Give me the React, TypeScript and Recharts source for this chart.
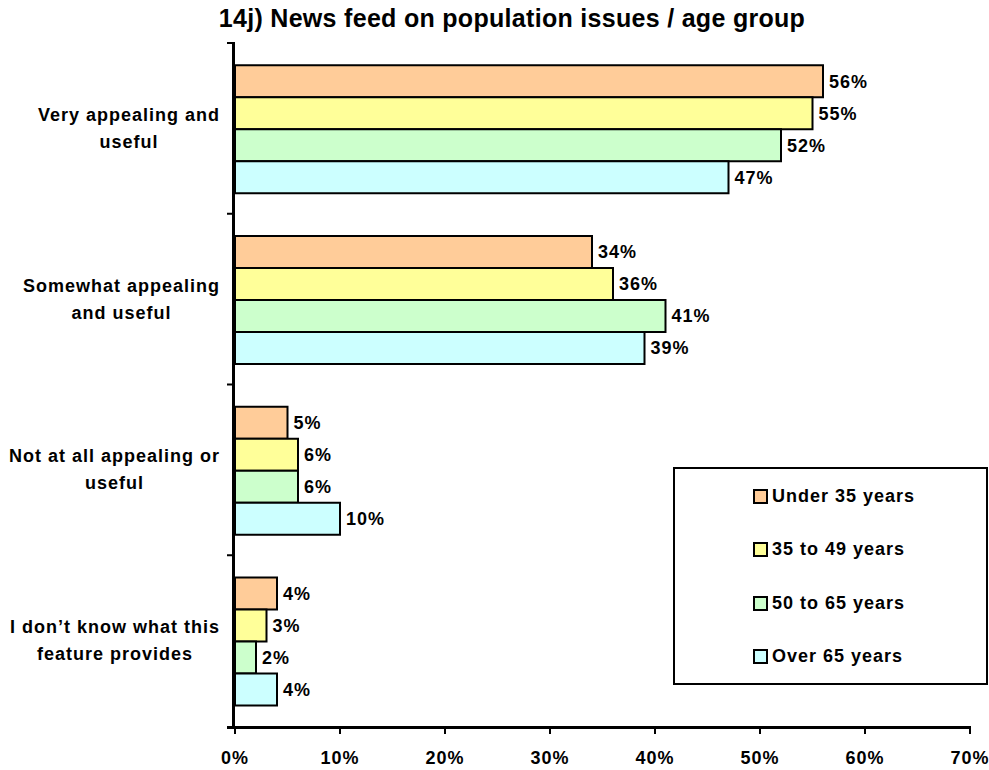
import React from 'react';
import { BarChart, Bar, XAxis, YAxis, LabelList } from 'recharts';

const categories = [
  'Very appealing and\nuseful',
  'Somewhat appealing\nand useful',
  'Not at all appealing or\nuseful',
  'I don\u2019t know what this\nfeature provides',
];

const under35 = [56, 34, 5, 4];
const age35to49 = [55, 36, 6, 3];
const age50to65 = [52, 41, 6, 2];
const over65 = [47, 39, 10, 4];

const xTicks = [0, 10, 20, 30, 40, 50, 60, 70];

const series = [
  { key: 'under35', name: 'Under 35 years', color: '#FFCC99', values: under35 },
  { key: 'age35to49', name: '35 to 49 years', color: '#FFFF99', values: age35to49 },
  { key: 'age50to65', name: '50 to 65 years', color: '#CCFFCC', values: age50to65 },
  { key: 'over65', name: 'Over 65 years', color: '#CCFFFF', values: over65 },
];

const FONT = '"Liberation Sans", Arial, sans-serif';
const TEXT_STYLE = { fontFamily: FONT, fontWeight: 'bold' as const, fontSize: 18, letterSpacing: 1 };

const data = categories.map((category, i) => {
  const row: Record<string, string | number> = { category };
  series.forEach((s) => {
    row[s.key] = s.values[i];
  });
  return row;
});

let measureCtx: CanvasRenderingContext2D | null = null;
function textWidth(str: string) {
  if (!measureCtx) {
    measureCtx = document.createElement('canvas').getContext('2d');
  }
  if (!measureCtx) return str.length * 10;
  measureCtx.font = `bold 18px ${FONT}`;
  return measureCtx.measureText(str).width + str.length * 1;
}

// axis segment for the band, tick marks on the band edges, label block right aligned
function CategoryTick(props: any) {
  const { x, y, payload, index, visibleTicksCount } = props;
  const lines = String(payload?.value ?? '').split('\n');
  const lineHeight = 27;
  const half = payload?.offset || 85.4;
  const isLast = index === (visibleTicksCount ?? categories.length) - 1;
  const blockWidth = Math.max(...lines.map(textWidth));
  const cx = 220 - blockWidth / 2;
  return (
    <g>
      <rect x={x - 3} y={y - half - 1} width={3} height={2 * half + 4} fill="#000" />
      <rect x={x - 8} y={y - half - 1} width={8} height={2} fill="#000" />
      {isLast && <rect x={x - 8} y={y + half} width={8} height={3} fill="#000" />}
      <text x={cx} y={y} textAnchor="middle" fill="#000" style={TEXT_STYLE}>
        {lines.map((line, i) => (
          <tspan
            key={i}
            x={cx}
            dy={i === 0 ? -((lines.length - 1) * lineHeight) / 2 + 6 : lineHeight}
          >
            {line}
          </tspan>
        ))}
      </text>
    </g>
  );
}

// x axis ticks remember where they sit so the baseline can be drawn above the bars layer
const axisFrame = { xs: [] as number[], y: NaN };

function PercentTick(props: any) {
  const { x, y, payload, index } = props;
  axisFrame.xs[index] = x;
  axisFrame.y = y;
  const prevX = index > 0 ? axisFrame.xs[index - 1] : undefined;
  return (
    <g>
      {prevX !== undefined && <rect x={prevX - 1} y={y} width={x - prevX + 2} height={3} fill="#000" />}
      <rect x={x - 1} y={y} width={2} height={8} fill="#000" />
      <text x={x} y={y + 25} dy="0.71em" textAnchor="middle" fill="#000" style={TEXT_STYLE}>
        {`${payload.value}%`}
      </text>
    </g>
  );
}

function AxisBaseline() {
  const xs = axisFrame.xs.filter((v) => Number.isFinite(v));
  if (!Number.isFinite(axisFrame.y) || xs.length < 2) return null;
  const x0 = Math.min(...xs);
  const x1 = Math.max(...xs);
  return <rect x={x0 - 1} y={axisFrame.y} width={x1 - x0 + 2} height={3} fill="#000" />;
}

function ChartLegend() {
  return (
    <div
      style={{
        position: 'absolute',
        left: 673,
        top: 467,
        width: 315,
        height: 218,
        boxSizing: 'border-box',
        border: '2px solid #000',
        background: '#fff',
        ...TEXT_STYLE,
        letterSpacing: '1px',
      }}
    >
      {series.map((s, i) => (
        <div
          key={s.key}
          style={{
            position: 'absolute',
            left: 78,
            top: 16 + i * 53.5,
            display: 'flex',
            alignItems: 'center',
            height: 22,
          }}
        >
          <span
            style={{
              display: 'inline-block',
              width: 11,
              height: 11,
              background: s.color,
              border: '2px solid #000',
              marginRight: 4,
            }}
          />
          <span>{s.name}</span>
        </div>
      ))}
    </div>
  );
}

export default function App() {
  return (
    <div style={{ position: 'absolute', left: 0, top: 0, width: 989, height: 770, background: '#fff' }}>
      <div
        style={{
          position: 'absolute',
          left: 0,
          top: 4,
          width: 1024,
          textAlign: 'center',
          fontFamily: FONT,
          fontWeight: 'bold',
          fontSize: 25,
          letterSpacing: 0.3,
        }}
      >
        14j) News feed on population issues / age group
      </div>
      <BarChart
        width={989}
        height={770}
        data={data}
        layout="vertical"
        margin={{ top: 43, right: 19, bottom: 0, left: 0 }}
        barCategoryGap="13%"
        barGap={0}
      >
        <YAxis
          type="category"
          dataKey="category"
          width={235}
          axisLine={false}
          tickLine={false}
          tickSize={0}
          tickMargin={0}
          tick={<CategoryTick />}
          interval={0}
        />
        <XAxis
          type="number"
          domain={[0, 70]}
          ticks={xTicks}
          height={44}
          axisLine={false}
          tickLine={false}
          tickSize={0}
          tickMargin={0}
          tick={<PercentTick />}
          interval={0}
        />
        {series.map((s, si) => (
          <Bar
            key={s.key}
            dataKey={s.key}
            name={s.name}
            fill={s.color}
            stroke="#000"
            strokeWidth={2}
            isAnimationActive={false}
          >
            <LabelList
              dataKey={s.key}
              position="right"
              offset={6}
              formatter={(v: number) => `${v}%`}
              fill="#000"
              style={TEXT_STYLE}
            />
            {si === series.length - 1 && <LabelList dataKey={s.key} content={AxisBaseline} />}
          </Bar>
        ))}
      </BarChart>
      <ChartLegend />
    </div>
  );
}
